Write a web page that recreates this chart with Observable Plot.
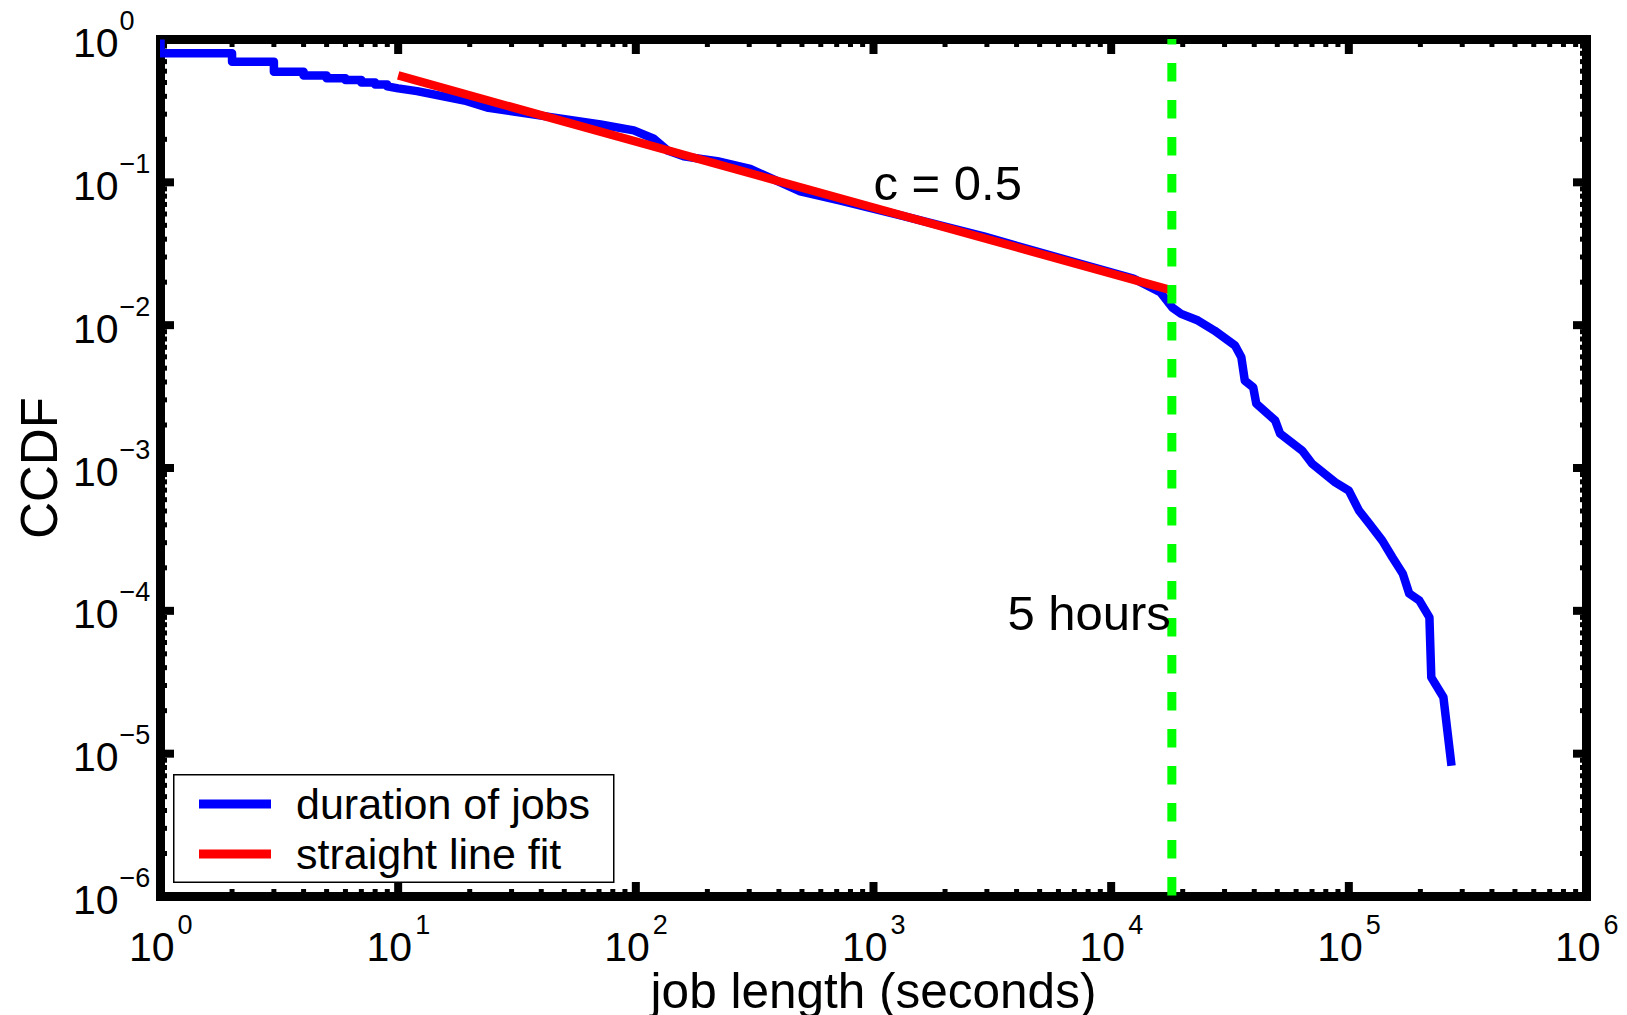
<!DOCTYPE html>
<html>
<head>
<meta charset="utf-8">
<script src="https://cdn.jsdelivr.net/npm/d3@7"></script>
<script src="https://cdn.jsdelivr.net/npm/@observablehq/plot@0.6"></script>
<style>
  html, body { margin: 0; padding: 0; background: #fff; }
  #chart { position: relative; width: 1627px; height: 1015px; overflow: hidden; }
  #chart svg { display: block; }
  #legend { position: absolute; left: 173px; top: 774px; }
</style>
</head>
<body>
<div id="chart"></div>
<script>
// Empirical CCDF of job durations (seconds)
const jobSeconds = [1, 1, 2, 2, 3, 3, 4, 4, 5, 5, 6, 6, 7, 7, 8, 8, 9, 9, 10, 12, 19, 24, 44, 71, 98, 119,
  136, 159, 220, 303, 492, 726, 1300, 2910, 5550, 12400, 16100, 18070, 19700, 23200, 27200, 33200,
  35300, 36500, 39600, 40800, 49000, 51400, 63600, 70100, 87700, 100000, 110400, 121900, 138300,
  152400, 168700, 179500, 198100, 218300, 222300, 250000, 270400];
const ccdf = [1.0, 0.80, 0.80, 0.70, 0.70, 0.595, 0.595, 0.56, 0.56, 0.535, 0.535, 0.52, 0.52, 0.50, 0.50,
  0.485, 0.485, 0.47, 0.455, 0.435, 0.374, 0.332, 0.286, 0.254, 0.231, 0.202, 0.167, 0.152, 0.1406,
  0.124, 0.0866, 0.0746, 0.0586, 0.0418, 0.0308, 0.0212, 0.017, 0.0133, 0.0120, 0.01077, 0.00917,
  0.0072, 0.00596, 0.00409, 0.00367, 0.00282, 0.00215, 0.00174, 0.001325, 0.00107, 0.000794,
  0.000695, 0.000503, 0.000408, 0.00031, 0.000237, 0.000182, 0.000132, 0.000118, 0.00009,
  0.0000342, 0.0000248, 0.00000824];

// Power-law fit over the body of the distribution
const fitSeconds = [10, 18000];
const fitCcdf = [0.56, 0.0175];
const fitLabel = "c = 0.5";
const fitLabelSeconds = 1000;
const fitLabelCcdf = 0.075;

// Cut-off marker at 5 hours
const cutoffSeconds = 18000;
const cutoffLabel = "5 hours";
const cutoffLabelCcdf = 7.4e-5;

// Axes
const xExponents = [0, 1, 2, 3, 4, 5, 6];
const yExponents = [0, -1, -2, -3, -4, -5, -6];
const minorMultipliers = [2, 3, 4, 5, 6, 7, 8, 9];
const xTitle = "job length (seconds)";
const yTitle = "CCDF";

// Legend
const seriesNames = ["duration of jobs", "straight line fit"];
const seriesColors = ["#0000ff", "#ff0000"];
const cutoffColor = "#00ff00";

const font = "'Liberation Sans', Arial, Helvetica, sans-serif";

const blue = jobSeconds.map((x, i) => ({x, y: ccdf[i]}));
const red = fitSeconds.map((x, i) => ({x, y: fitCcdf[i]}));

const xMajor = xExponents.map(e => 10 ** e);
const yMajor = yExponents.map(e => 10 ** e);
const xMinor = xExponents.slice(0, -1).flatMap(e => minorMultipliers.map(m => m * 10 ** e));
const yMinor = yExponents.slice(1).flatMap(e => minorMultipliers.map(m => m * 10 ** e));
const sup = e => (e < 0 ? "\u2212" + (-e) : String(e));

const noText = {tickFormat: () => "", label: null, strokeLinecap: "butt"};
const major = {strokeWidth: 8, tickSize: 14, ...noText};
const minor = {strokeWidth: 5, tickSize: 7, ...noText};

const chart = Plot.plot({
  width: 1627,
  height: 1015,
  marginTop: 39,
  marginRight: 41,
  marginBottom: 119,
  marginLeft: 160,
  style: {fontFamily: font, color: "#000", background: "#fff", overflow: "visible"},
  x: {type: "log", domain: [1, 1e6], axis: null},
  y: {type: "log", domain: [1e-6, 1], axis: null},
  marks: [
    Plot.frame({stroke: "#000", strokeWidth: 9}),
    // inward ticks on all four sides
    Plot.axisX(xMajor, {anchor: "bottom", dy: -14, ...major}),
    Plot.axisX(xMajor, {anchor: "top", dy: 14, ...major}),
    Plot.axisX(xMinor, {anchor: "bottom", dy: -7, ...minor}),
    Plot.axisX(xMinor, {anchor: "top", dy: 7, ...minor}),
    Plot.axisY(yMajor, {anchor: "left", dx: 14, ...major}),
    Plot.axisY(yMajor, {anchor: "right", dx: -14, ...major}),
    Plot.axisY(yMinor, {anchor: "left", dx: 7, ...minor}),
    Plot.axisY(yMinor, {anchor: "right", dx: -7, ...minor}),
    // tick labels as 10 with a superscript exponent
    Plot.text(xExponents, {x: e => 10 ** e, frameAnchor: "bottom", text: () => "10", textAnchor: "end",
      lineAnchor: "bottom", dx: 14, dy: 64, fontSize: 41}),
    Plot.text(xExponents, {x: e => 10 ** e, frameAnchor: "bottom", text: sup, textAnchor: "start",
      lineAnchor: "bottom", dx: 17, dy: 37, fontSize: 27}),
    Plot.text(yExponents, {y: e => 10 ** e, frameAnchor: "left", text: () => "10", textAnchor: "end",
      lineAnchor: "bottom", dx: -42, dy: 17.5, fontSize: 41}),
    Plot.text(yExponents, {y: e => 10 ** e, frameAnchor: "left", text: sup, textAnchor: "start",
      lineAnchor: "bottom", dx: -41, dy: -9.5, fontSize: 27}),
    // axis titles
    Plot.text([xTitle], {frameAnchor: "bottom", text: d => d, textAnchor: "middle", lineAnchor: "bottom",
      dy: 111, fontSize: 49.5}),
    Plot.text([yTitle], {frameAnchor: "left", text: d => d, textAnchor: "middle", rotate: -90,
      dx: -119.5, fontSize: 51}),
    // data
    Plot.line(blue, {x: "x", y: "y", stroke: seriesColors[0], strokeWidth: 8.5, strokeLinecap: "butt",
      strokeLinejoin: "round", clip: true}),
    Plot.line(red, {x: "x", y: "y", stroke: seriesColors[1], strokeWidth: 8.5, strokeLinecap: "butt", clip: true}),
    Plot.ruleX([cutoffSeconds], {stroke: cutoffColor, strokeWidth: 9, strokeDasharray: "18.5,18.5",
      strokeDashoffset: 13, clip: true}),
    // annotations
    Plot.text([fitLabel], {x: fitLabelSeconds, y: fitLabelCcdf, text: d => d, textAnchor: "start",
      lineAnchor: "bottom", dx: 0, fontSize: 49}),
    Plot.text([cutoffLabel], {x: cutoffSeconds, y: cutoffLabelCcdf, text: d => d, textAnchor: "end",
      lineAnchor: "bottom", dx: -1, fontSize: 49})
  ]
});

const container = document.getElementById("chart");
container.appendChild(chart);

// legend box inside the plot area, lower left
const lg = d3.create("svg").attr("id", "legend").attr("width", 442).attr("height", 110);
lg.append("rect").attr("x", 0.75).attr("y", 0.75).attr("width", 440).attr("height", 107.5)
  .attr("fill", "#fff").attr("stroke", "#000").attr("stroke-width", 1.5);
seriesNames.forEach((name, i) => {
  const cy = 30 + i * 50;
  lg.append("line").attr("x1", 26).attr("x2", 98).attr("y1", cy).attr("y2", cy)
    .attr("stroke", seriesColors[i]).attr("stroke-width", 9);
  lg.append("text").attr("x", 123).attr("y", cy + 15).attr("font-family", font)
    .attr("font-size", 43).attr("fill", "#000").text(name);
});
container.appendChild(lg.node());
</script>
</body>
</html>
